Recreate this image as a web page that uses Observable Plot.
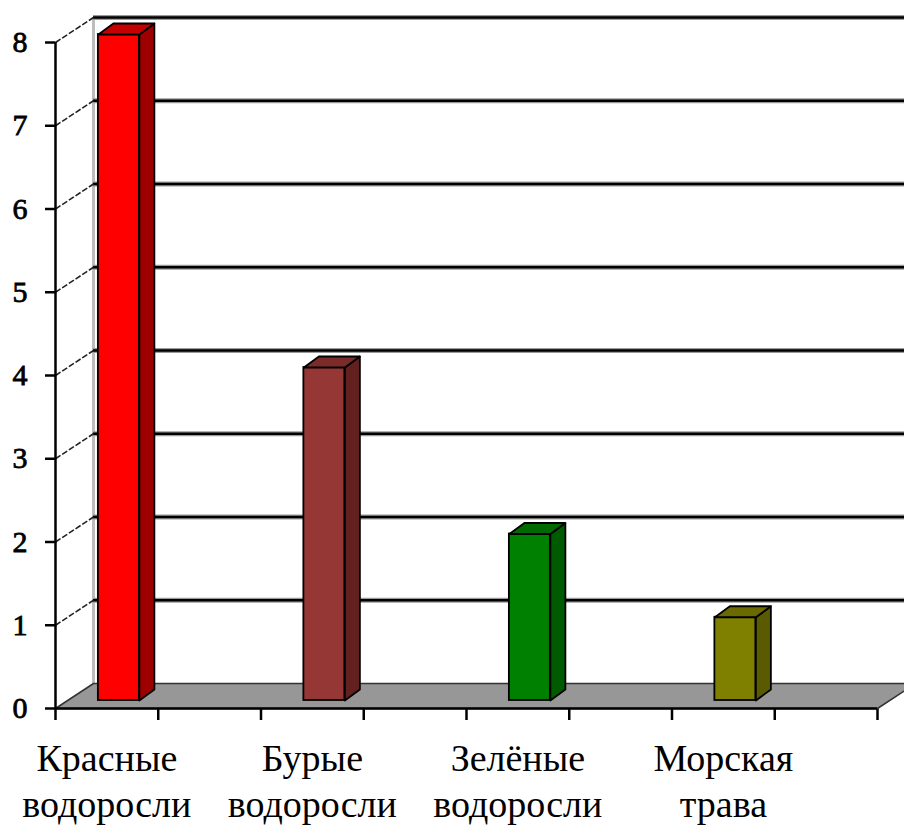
<!DOCTYPE html>
<html><head><meta charset="utf-8">
<script src="https://cdn.jsdelivr.net/npm/d3@7"></script>
<script src="https://cdn.jsdelivr.net/npm/@observablehq/plot@0.6"></script>
<style>
html,body{margin:0;padding:0;background:#fff;overflow:hidden;}
#note{position:absolute;left:2px;top:0px;font:10px 'Liberation Serif';color:#fff}
g[aria-label="x-axis"] line, g[aria-label="y-axis"] line,
g[aria-label="x-axis tick"] path, g[aria-label="y-axis tick"] path {stroke-width:2.5px; stroke:#000}
g[aria-label="y-axis tick label"] text, g[aria-label="y-axis"] text {stroke:#000; stroke-width:0.8px; paint-order:stroke;}
</style></head><body><div id="chart"></div><div id="note">.</div>
<script>
// ---- data ----
const categories = ["Красные\nводоросли", "Бурые\nводоросли", "Зелёные\nводоросли", "Морская\nтрава"];
const values = [8, 4, 2, 1];
const frontColors = ["#ff0000", "#953735", "#008000", "#808000"];
const sideColors  = ["#9e0000", "#62201f", "#005a00", "#5a5a00"];
const topColors   = ["#c40000", "#7b2b2a", "#006a00", "#6a6a00"];
const yTicks = [0, 1, 2, 3, 4, 5, 6, 7, 8];
const slotTicks = [0, 1, 2, 3, 4, 5, 6, 7, 8];

// ---- layout ----
const W = 904, H = 828, mL = 55, mR = 27, mT = 42, mB = 120;
const slots = 8, yMax = 8;
const kx = (W - mL - mR) / slots, ky = (H - mT - mB) / yMax;
const wallDX = 38, wallDY = -25;             // 3D depth of floor / walls (px)
const barDX = 12, barDY = -8;                // bar front offset in depth (px)
const fdx = wallDX / kx, fdy = -wallDY / ky; // floor depth in data units
const bdx = 15 / kx, bdy = 11 / ky;          // bar depth in data units
const half = 20.5 / kx;                      // half bar width in data units
const serif = "Liberation Serif";

const rows = categories.map((c, i) => {
  const [line1, line2] = c.split("\n");
  return {cat: c, line1, line2, value: values[i], pos: i * 2 + 0.5,
    front: frontColors[i], side: sideColors[i], top: topColors[i]};
});
const sidePts = rows.flatMap((d, i) => {
  const x2 = d.pos + half;
  return [[x2, 0], [x2 + bdx, bdy], [x2 + bdx, d.value + bdy], [x2, d.value], [x2, 0]]
    .map(([x, y]) => ({id: i, x, y, color: d.side}));
});
const topPts = rows.flatMap((d, i) => {
  const x1 = d.pos - half, x2 = d.pos + half, v = d.value;
  return [[x1, v], [x2, v], [x2 + bdx, v + bdy], [x1 + bdx, v + bdy], [x1, v]]
    .map(([x, y]) => ({id: i, x, y, color: d.top}));
});
const floorPts = [[0, 0], [slots, 0], [slots + fdx, fdy], [fdx, fdy], [0, 0]]
  .map(([x, y]) => ({x, y}));

const chart = Plot.plot({
  width: W, height: H,
  marginLeft: mL, marginRight: mR, marginTop: mT, marginBottom: mB,
  style: {fontFamily: serif, fontSize: "30px"},
  x: {domain: [0, slots], ticks: slotTicks, tickSize: 12, tickFormat: () => "", label: null},
  y: {domain: [0, yMax], ticks: yTicks, tickSize: 10, tickPadding: 18, tickFormat: d => String(d), label: null},
  color: {type: "identity"},
  marks: [
    // back wall left edge
    Plot.ruleX([0], {y1: 0, y2: yMax, dx: wallDX, dy: wallDY, stroke: "#bdbdbd", strokeWidth: 3}),
    // back wall gridlines
    Plot.ruleY(yTicks.filter(v => v > 0), {y: d => d, x1: 0, x2: slots + fdx, dx: wallDX, dy: wallDY, stroke: "#9a9a9a", strokeWidth: 5}),
    Plot.ruleY(yTicks.filter(v => v > 0), {y: d => d, x1: 0, x2: slots + fdx, dx: wallDX, dy: wallDY, stroke: "#000", strokeWidth: 2.5}),
    // left wall gridlines (diagonals)
    Plot.link(yTicks.filter(v => v > 0), {x1: 0, y1: d => d, x2: fdx, y2: d => d + fdy, stroke: "#222", strokeWidth: 1.6, strokeDasharray: "6 2"}),
    // floor
    Plot.line(floorPts, {x: "x", y: "y", fill: "#979797", stroke: "#333", strokeWidth: 1.5}),
    // axis lines
    Plot.ruleX([0], {y1: 0, y2: yMax, stroke: "#000", strokeWidth: 2.5}),
    Plot.ruleY([0], {x1: 0, x2: slots, stroke: "#000", strokeWidth: 2.5}),
    // bars: front, side, top faces
    Plot.rect(rows, {x1: d => d.pos - half, x2: d => d.pos + half, y1: 0, y2: "value", fill: "front", stroke: "#000", strokeWidth: 1.8, dx: barDX, dy: barDY}),
    Plot.line(sidePts, {x: "x", y: "y", z: "id", fill: "color", stroke: "#000", strokeWidth: 1.8, dx: barDX, dy: barDY}),
    Plot.line(topPts, {x: "x", y: "y", z: "id", fill: "color", stroke: "#000", strokeWidth: 1.8, dx: barDX, dy: barDY}),
    // category labels (two lines)
    Plot.text(rows, {x: "pos", y: 0, text: "line1", dy: 50, fontSize: 38, fontFamily: serif, fill: "#000"}),
    Plot.text(rows, {x: "pos", y: 0, text: "line2", dy: 96, fontSize: 38, fontFamily: serif, fill: "#000"})
  ]
});
document.getElementById("chart").appendChild(chart);
</script></body></html>
